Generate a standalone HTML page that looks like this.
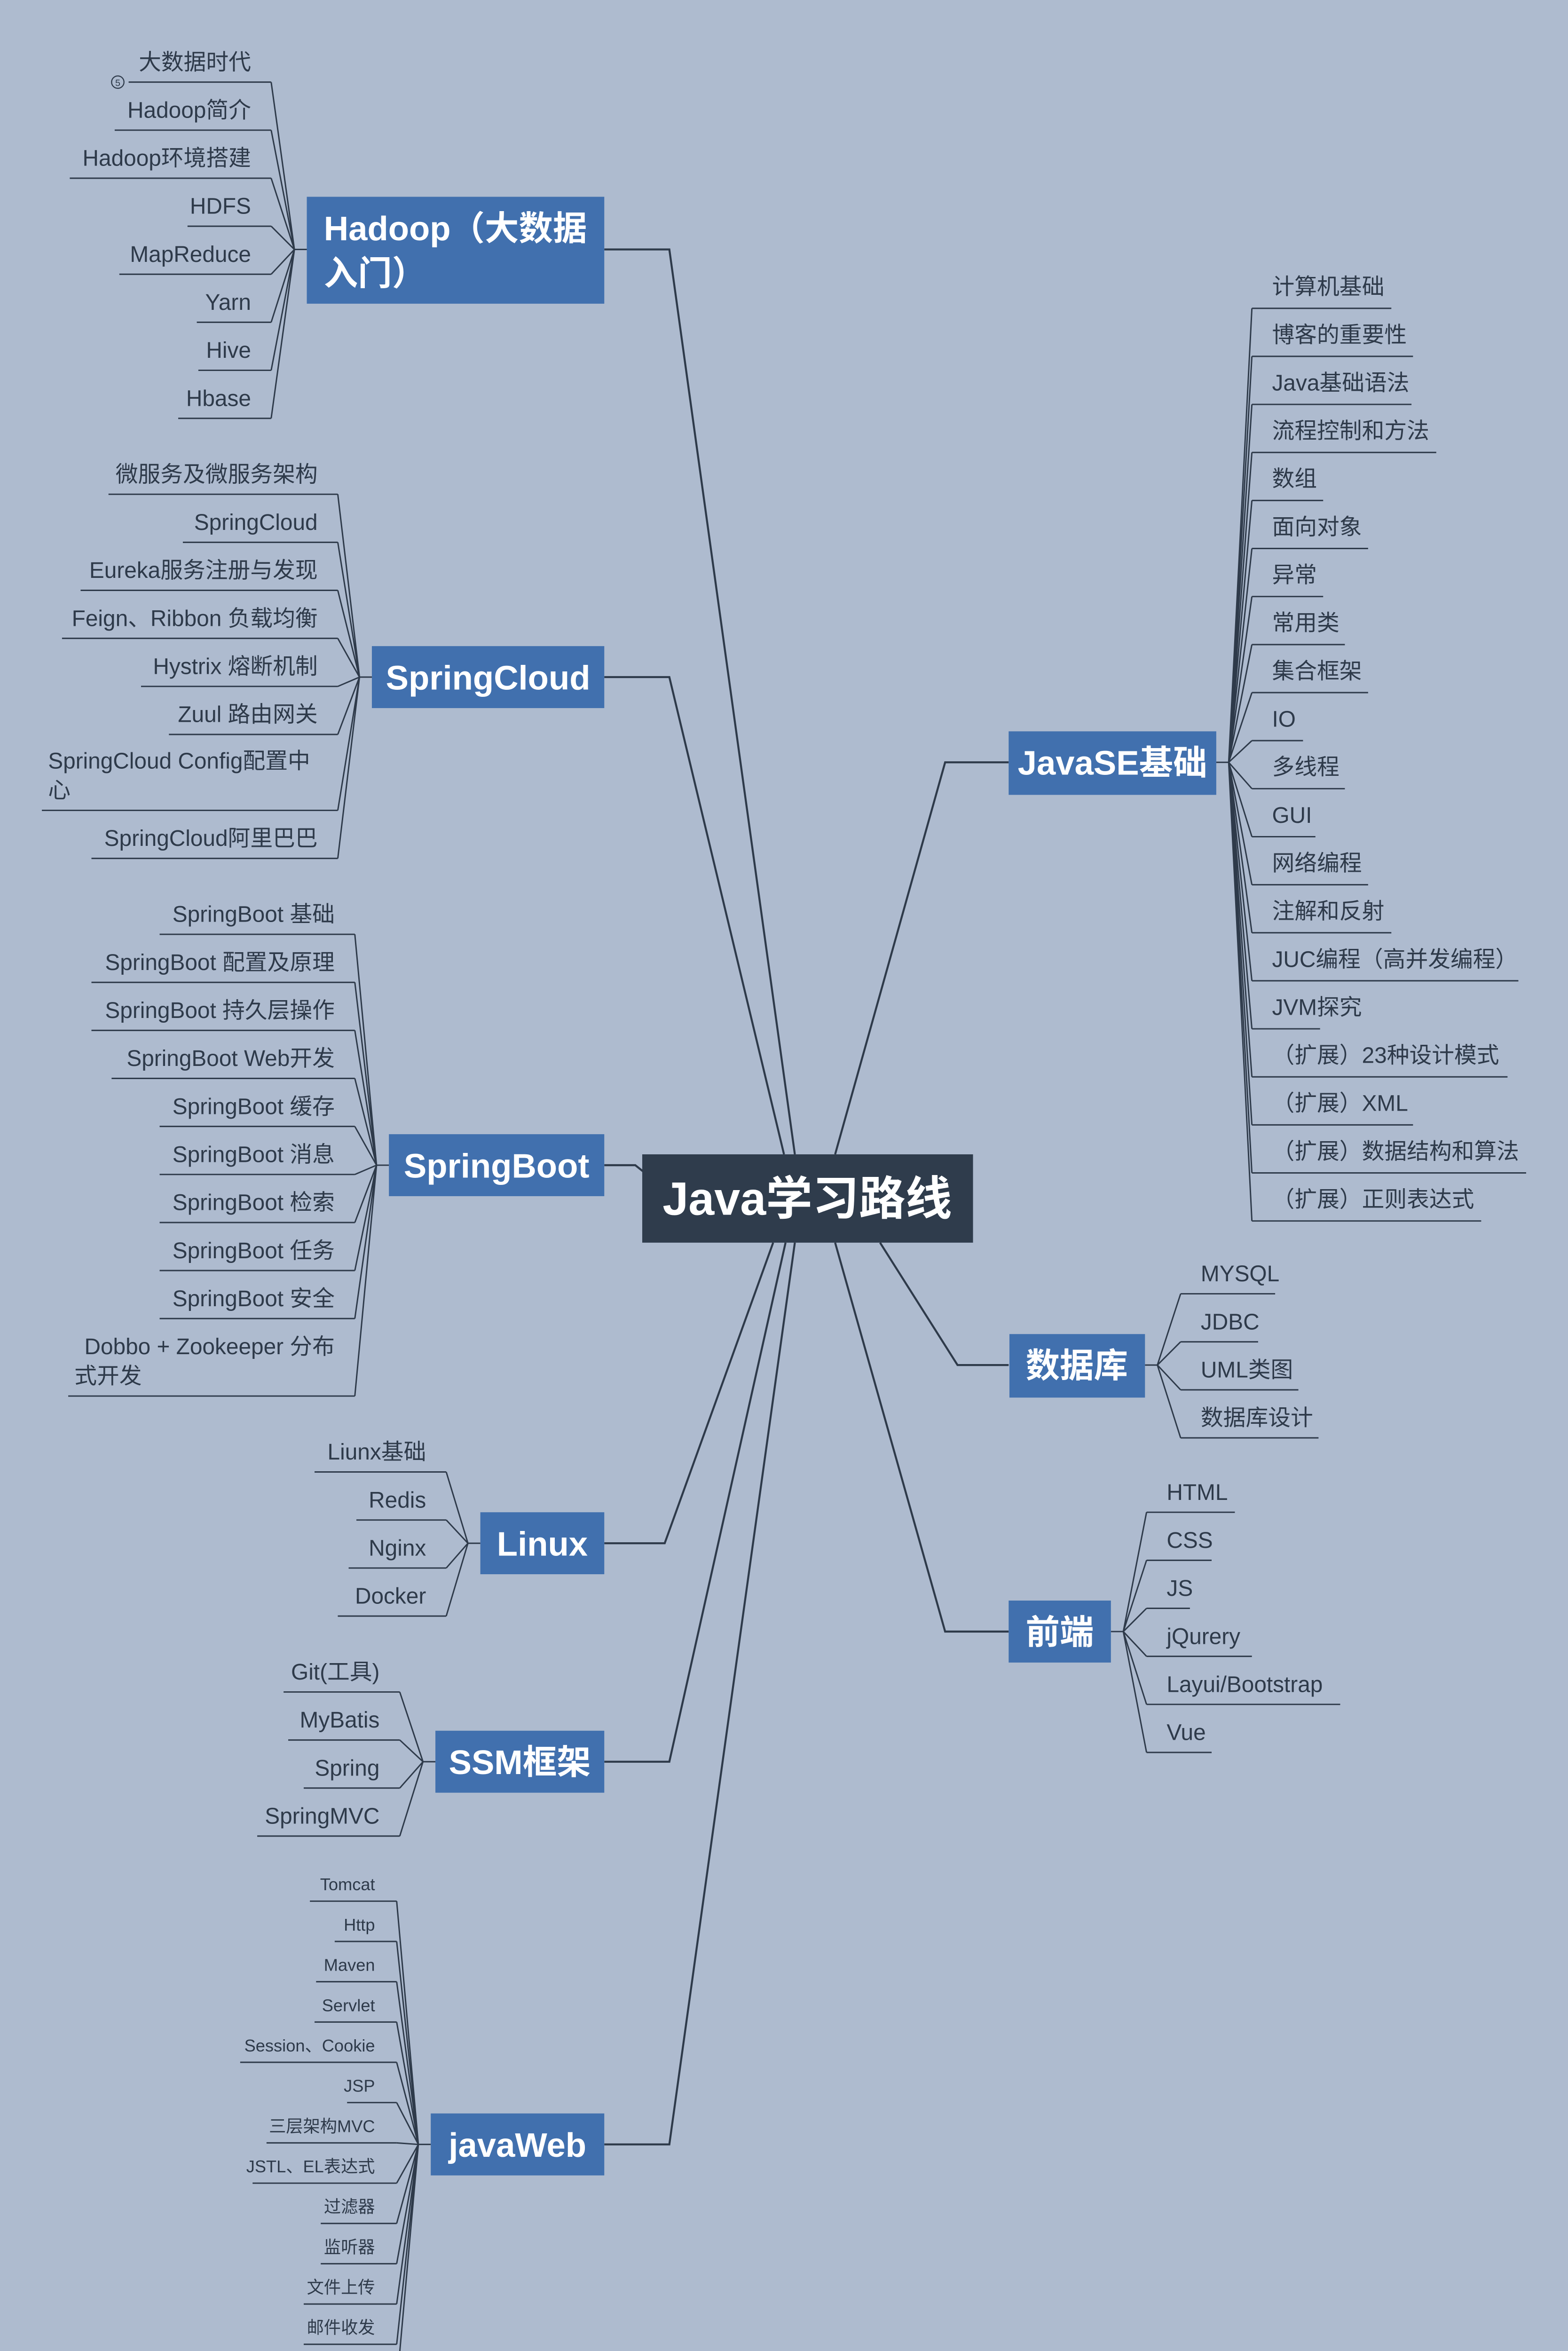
<!DOCTYPE html>
<html><head><meta charset="utf-8"><style>
html,body{margin:0;padding:0;background:#aebbcf;width:3335px;height:5167px;overflow:hidden;}
svg{display:block;position:absolute;left:0;top:0;}
text{font-family:"Liberation Sans","Noto Sans CJK SC",sans-serif;fill:#2e3a4a;}
.l{font-size:14.5px;}
.s{font-size:11px;}
.t{fill:#fff;font-weight:bold;font-size:22px;}
</style></head><body>
<svg width="3335" height="5167" viewBox="0 0 1012 1568" xmlns="http://www.w3.org/2000/svg">
<rect width="1012" height="1568" fill="#aebbcf"/>
<g stroke="#2e3a4a" fill="none" stroke-width="1.3">
<polyline points="390,161 432,161 513,745"/>
<polyline points="390,437 432,437 506,745"/>
<polyline points="390,752 410,752 415,756"/>
<polyline points="651,492 610,492 539,745"/>
<polyline points="651,881 618,881 568,802"/>
<polyline points="651,1053 610,1053 539,802"/>
<polyline points="390,996 429,996 499,802"/>
<polyline points="390,1137 432,1137 507,802"/>
<polyline points="390,1384 432,1384 513,802"/>
</g>
<g stroke="#2e3a4a" fill="none" stroke-width="0.9">
<line x1="198" y1="161" x2="190" y2="161"/>
<path d="M190,161 L175,53 M190,161 L175,84 M190,161 L175,115 M190,161 L175,146 M190,161 L175,177 M190,161 L175,208 M190,161 L175,239 M190,161 L175,270"/>
<path d="M83,53H175 M74,84H175 M45,115H175 M121,146H175 M77,177H175 M127,208H175 M128,239H175 M115,270H175"/>
<line x1="240" y1="437" x2="232" y2="437"/>
<path d="M232,437 L218,319 M232,437 L218,350 M232,437 L218,381 M232,437 L218,412 M232,437 L218,443 M232,437 L218,474 M232,437 L218,523 M232,437 L218,554"/>
<path d="M70,319H218 M118,350H218 M52,381H218 M40,412H218 M91,443H218 M109,474H218 M27,523H218 M59,554H218"/>
<line x1="251" y1="752" x2="243" y2="752"/>
<path d="M243,752 L229,603 M243,752 L229,634 M243,752 L229,665 M243,752 L229,696 M243,752 L229,727 M243,752 L229,758 M243,752 L229,789 M243,752 L229,820 M243,752 L229,851 M243,752 L229,901"/>
<path d="M103,603H229 M59,634H229 M59,665H229 M72,696H229 M103,727H229 M103,758H229 M103,789H229 M103,820H229 M103,851H229 M44,901H229"/>
<line x1="310" y1="996" x2="302" y2="996"/>
<path d="M302,996 L288,950 M302,996 L288,981 M302,996 L288,1012 M302,996 L288,1043"/>
<path d="M203,950H288 M230,981H288 M225,1012H288 M218,1043H288"/>
<line x1="281" y1="1137" x2="273" y2="1137"/>
<path d="M273,1137 L258,1092 M273,1137 L258,1123 M273,1137 L258,1154 M273,1137 L258,1185"/>
<path d="M183,1092H258 M186,1123H258 M196,1154H258 M166,1185H258"/>
<line x1="278" y1="1384" x2="270" y2="1384"/>
<path d="M270,1384 L256,1227 M270,1384 L256,1253 M270,1384 L256,1279 M270,1384 L256,1305 M270,1384 L256,1331 M270,1384 L256,1357 M270,1384 L256,1383 M270,1384 L256,1409 M270,1384 L256,1435 M270,1384 L256,1461 M270,1384 L256,1487 M270,1384 L256,1513 M270,1384 L256,1540"/>
<path d="M200,1227H256 M216,1253H256 M204,1279H256 M203,1305H256 M155,1331H256 M224,1357H256 M172,1383H256 M163,1409H256 M207,1435H256 M207,1461H256 M196,1487H256 M196,1513H256 M128,1540H256"/>
<line x1="785" y1="492" x2="793" y2="492"/>
<path d="M793,492 L808,199 M793,492 L808,230 M793,492 L808,261 M793,492 L808,292 M793,492 L808,323 M793,492 L808,354 M793,492 L808,385 M793,492 L808,416 M793,492 L808,447 M793,492 L808,478 M793,492 L808,509 M793,492 L808,540 M793,492 L808,571 M793,492 L808,602 M793,492 L808,633 M793,492 L808,664 M793,492 L808,695 M793,492 L808,726 M793,492 L808,757 M793,492 L808,788"/>
<path d="M808,199H898 M808,230H912 M808,261H911 M808,292H927 M808,323H854 M808,354H883 M808,385H854 M808,416H868 M808,447H883 M808,478H841 M808,509H868 M808,540H849 M808,571H883 M808,602H898 M808,633H980 M808,664H852 M808,695H973 M808,726H912 M808,757H985 M808,788H956"/>
<line x1="739" y1="881" x2="747" y2="881"/>
<path d="M747,881 L762,835 M747,881 L762,866 M747,881 L762,897 M747,881 L762,928"/>
<path d="M762,835H823 M762,866H812 M762,897H838 M762,928H851"/>
<line x1="717" y1="1053" x2="725" y2="1053"/>
<path d="M725,1053 L740,976 M725,1053 L740,1007 M725,1053 L740,1038 M725,1053 L740,1069 M725,1053 L740,1100 M725,1053 L740,1131"/>
<path d="M740,976H797 M740,1007H782 M740,1038H768 M740,1069H808 M740,1100H865 M740,1131H782"/>
</g>
<circle cx="76" cy="53" r="4" fill="none" stroke="#2e3a4a" stroke-width="0.7"/>
<text x="76" y="55.5" font-size="6" text-anchor="middle">5</text>

<rect x="414.5" y="745" width="213.5" height="57" fill="#2f3c4c"/>
<text x="521" y="784" class="t" text-anchor="middle" style="font-size:30px">Java学习路线</text>
<rect x="198" y="127" width="192" height="69" fill="#4170ae"/>
<text x="209" y="155" class="t">Hadoop（大数据</text>
<text x="209" y="184" class="t">入门）</text>
<rect x="240" y="417" width="150" height="40" fill="#4170ae"/>
<text x="315" y="445" class="t" text-anchor="middle">SpringCloud</text>
<rect x="251" y="732" width="139" height="40" fill="#4170ae"/>
<text x="320.5" y="760" class="t" text-anchor="middle">SpringBoot</text>
<rect x="310" y="976" width="80" height="40" fill="#4170ae"/>
<text x="350" y="1004" class="t" text-anchor="middle">Linux</text>
<rect x="281" y="1117" width="109" height="40" fill="#4170ae"/>
<text x="335.5" y="1145" class="t" text-anchor="middle">SSM框架</text>
<rect x="278" y="1364" width="112" height="40" fill="#4170ae"/>
<text x="334" y="1392" class="t" text-anchor="middle">javaWeb</text>
<rect x="651" y="472" width="134" height="41" fill="#4170ae"/>
<text x="718" y="500" class="t" text-anchor="middle">JavaSE基础</text>
<rect x="651.5" y="861" width="87.5" height="41" fill="#4170ae"/>
<text x="695" y="889" class="t" text-anchor="middle">数据库</text>
<rect x="651" y="1033" width="66" height="40" fill="#4170ae"/>
<text x="684" y="1061" class="t" text-anchor="middle">前端</text>

<g class="l" text-anchor="end">
<text x="162" y="45">大数据时代</text>
<text x="162" y="76">Hadoop简介</text>
<text x="162" y="107">Hadoop环境搭建</text>
<text x="162" y="138">HDFS</text>
<text x="162" y="169">MapReduce</text>
<text x="162" y="200">Yarn</text>
<text x="162" y="231">Hive</text>
<text x="162" y="262">Hbase</text>
<text x="205" y="311">微服务及微服务架构</text>
<text x="205" y="342">SpringCloud</text>
<text x="205" y="373">Eureka服务注册与发现</text>
<text x="205" y="404">Feign、Ribbon 负载均衡</text>
<text x="205" y="435">Hystrix 熔断机制</text>
<text x="205" y="466">Zuul 路由网关</text>
<text x="205" y="546">SpringCloud阿里巴巴</text>
<text x="216" y="595">SpringBoot 基础</text>
<text x="216" y="626">SpringBoot 配置及原理</text>
<text x="216" y="657">SpringBoot 持久层操作</text>
<text x="216" y="688">SpringBoot Web开发</text>
<text x="216" y="719">SpringBoot 缓存</text>
<text x="216" y="750">SpringBoot 消息</text>
<text x="216" y="781">SpringBoot 检索</text>
<text x="216" y="812">SpringBoot 任务</text>
<text x="216" y="843">SpringBoot 安全</text>
<text x="216" y="874">Dobbo + Zookeeper 分布</text>
<text x="275" y="942">Liunx基础</text>
<text x="275" y="973">Redis</text>
<text x="275" y="1004">Nginx</text>
<text x="275" y="1035">Docker</text>
<text x="245" y="1084">Git(工具)</text>
<text x="245" y="1115">MyBatis</text>
<text x="245" y="1146">Spring</text>
<text x="245" y="1177">SpringMVC</text>
</g>
<g class="l">
<text x="31" y="496">SpringCloud Config配置中</text>
<text x="31" y="515">心</text>
<text x="48" y="893">式开发</text>
</g>
<g class="s" text-anchor="end">
<text x="242" y="1220">Tomcat</text>
<text x="242" y="1246">Http</text>
<text x="242" y="1272">Maven</text>
<text x="242" y="1298">Servlet</text>
<text x="242" y="1324">Session、Cookie</text>
<text x="242" y="1350">JSP</text>
<text x="242" y="1376">三层架构MVC</text>
<text x="242" y="1402">JSTL、EL表达式</text>
<text x="242" y="1428">过滤器</text>
<text x="242" y="1454">监听器</text>
<text x="242" y="1480">文件上传</text>
<text x="242" y="1506">邮件收发</text>
<text x="242" y="1533">（扩展）富文本编辑器</text>
</g>
<g class="l">
<text x="821" y="190">计算机基础</text>
<text x="821" y="221">博客的重要性</text>
<text x="821" y="252">Java基础语法</text>
<text x="821" y="283">流程控制和方法</text>
<text x="821" y="314">数组</text>
<text x="821" y="345">面向对象</text>
<text x="821" y="376">异常</text>
<text x="821" y="407">常用类</text>
<text x="821" y="438">集合框架</text>
<text x="821" y="469">IO</text>
<text x="821" y="500">多线程</text>
<text x="821" y="531">GUI</text>
<text x="821" y="562">网络编程</text>
<text x="821" y="593">注解和反射</text>
<text x="821" y="624">JUC编程（高并发编程）</text>
<text x="821" y="655">JVM探究</text>
<text x="821" y="686">（扩展）23种设计模式</text>
<text x="821" y="717">（扩展）XML</text>
<text x="821" y="748">（扩展）数据结构和算法</text>
<text x="821" y="779">（扩展）正则表达式</text>
<text x="775" y="827">MYSQL</text>
<text x="775" y="858">JDBC</text>
<text x="775" y="889">UML类图</text>
<text x="775" y="920">数据库设计</text>
<text x="753" y="968">HTML</text>
<text x="753" y="999">CSS</text>
<text x="753" y="1030">JS</text>
<text x="753" y="1061">jQurery</text>
<text x="753" y="1092">Layui/Bootstrap</text>
<text x="753" y="1123">Vue</text>
</g>
</svg>
</body></html>
